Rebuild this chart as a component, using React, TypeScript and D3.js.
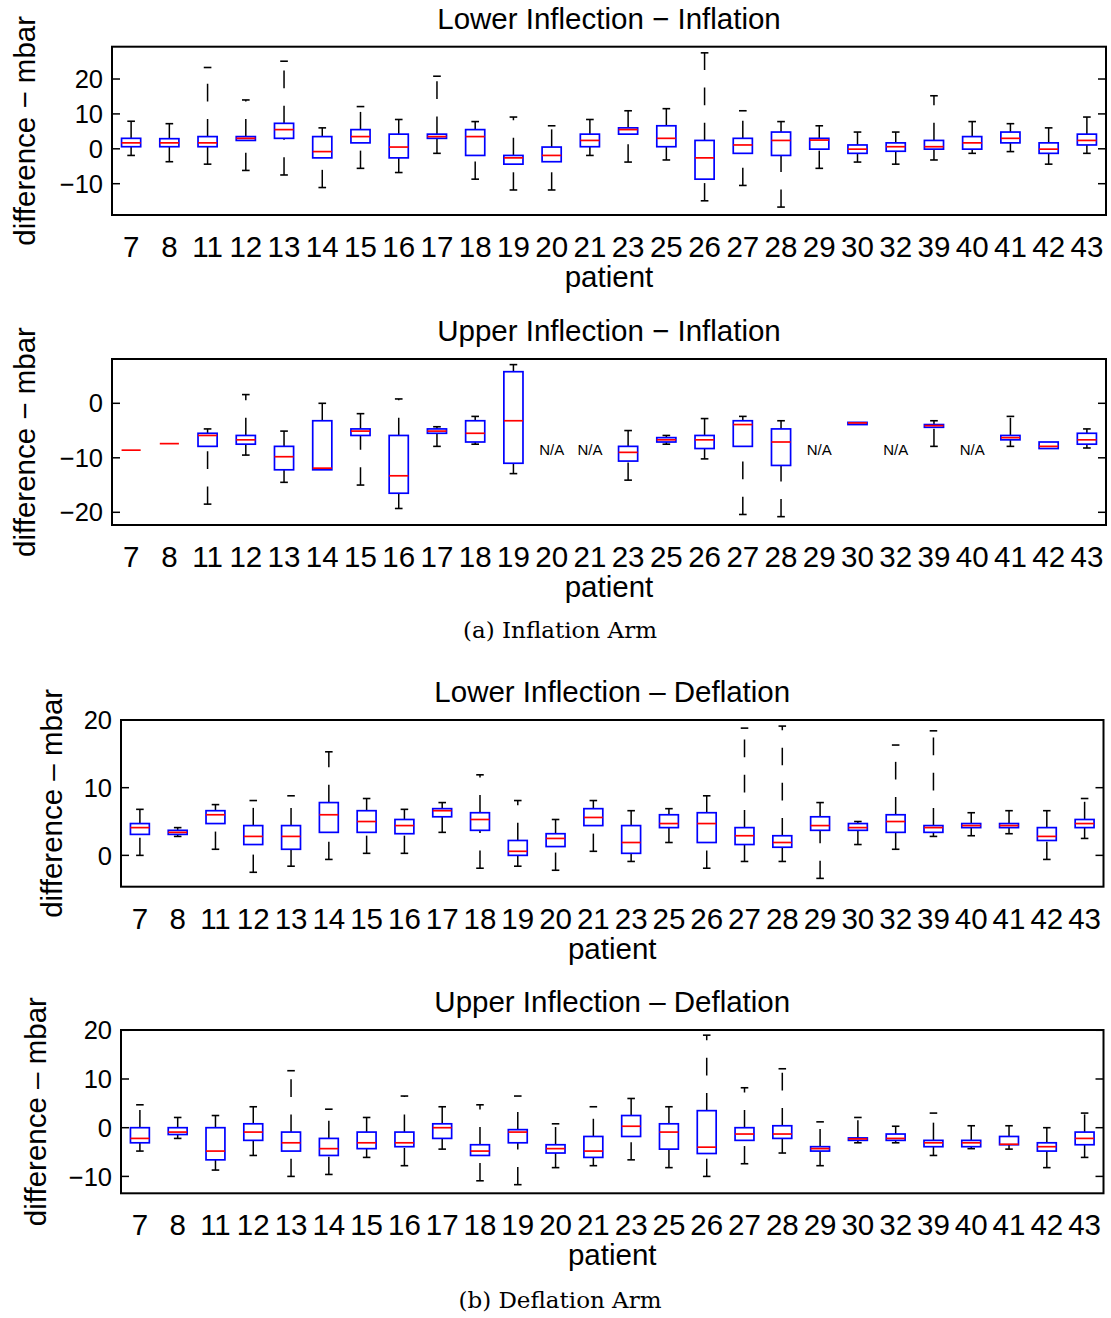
import React from 'react';
import * as d3 from 'd3';

const patients = ['7', '8', '11', '12', '13', '14', '15', '16', '17', '18', '19', '20', '21', '23', '25', '26', '27', '28', '29', '30', '32', '39', '40', '41', '42', '43'];

// Lower Inflection − Inflation
const liInfLow = [-1.9, -3.7, -4.4, -6.2, -7.5, -11.1, -5.6, -6.8, -1.3, -8.7, -11.8, -11.8, -1.9, -3.8, -3.2, -14.9, -10.5, -16.7, -5.6, -3.8, -4.4, -3.2, -1.3, -0.8, -4.4, -1.3];
const liInfQ1 = [0.6, 0.6, 0.6, 2.4, 3.0, -2.6, 1.7, -2.6, 3.0, -1.9, -4.4, -3.7, 0.6, 4.2, 0.6, -8.7, -1.3, -1.9, -0.1, -1.3, -0.7, -0.1, -0.1, 1.7, -1.3, 1.1];
const liInfMed = [1.7, 1.7, 1.7, 3.0, 5.5, -0.8, 3.5, 0.5, 3.5, 3.5, -2.6, -1.9, 2.4, 5.5, 3.0, -2.6, 1.1, 2.4, 2.5, -0.1, 0.6, 0.6, 1.7, 3.0, -0.1, 2.4];
const liInfQ3 = [3.0, 2.9, 3.5, 3.5, 7.3, 3.5, 5.5, 4.2, 4.2, 5.5, -1.9, 0.5, 4.2, 6.0, 6.6, 2.4, 3.0, 4.8, 3.0, 1.1, 1.7, 2.4, 3.5, 4.8, 1.7, 4.2];
const liInfHigh = [7.9, 7.2, 23.3, 14.0, 25.1, 6.0, 12.1, 8.4, 20.8, 7.8, 9.1, 6.6, 8.4, 10.9, 11.5, 27.5, 10.9, 7.8, 6.6, 4.8, 4.8, 15.2, 7.8, 7.2, 6.0, 9.1];

// Upper Inflection − Inflation (null = N/A)
const uiInfLow = [-8.6, -7.4, -18.5, -9.5, -14.5, -12.2, -15.0, -19.3, -7.9, -7.5, -12.9, null, null, -14.1, -7.5, -10.2, -20.4, -20.8, null, -3.9, null, -7.9, null, -7.9, -8.3, -8.2];
const uiInfQ1 = [-8.6, -7.4, -7.9, -7.5, -12.2, -12.2, -5.9, -16.5, -5.5, -7.1, -11.0, null, null, -10.6, -7.1, -8.3, -7.9, -11.4, null, -3.9, null, -4.4, null, -6.7, -8.3, -7.5];
const uiInfMed = [-8.6, -7.4, -5.9, -6.7, -9.8, -11.9, -5.1, -13.3, -5.1, -5.5, -3.2, null, null, -9.0, -6.7, -6.7, -3.9, -7.1, null, -3.6, null, -4.1, null, -6.3, -7.9, -6.7];
const uiInfQ3 = [-8.6, -7.4, -5.5, -5.9, -7.9, -3.2, -4.7, -5.9, -4.7, -3.2, 5.8, null, null, -7.9, -6.3, -5.9, -3.2, -4.7, null, -3.5, null, -3.9, null, -5.9, -7.1, -5.5];
const uiInfHigh = [-8.6, -7.4, -4.7, 1.6, -5.1, 0.0, -1.9, 0.8, -4.3, -2.4, 7.1, null, null, -5.0, -5.9, -2.8, -2.4, -3.2, null, -3.5, null, -3.2, null, -2.4, -7.1, -4.7];

// Lower Inflection – Deflation
const liDefLow = [0.0, 2.8, 0.9, -2.5, -1.6, -0.6, 0.3, 0.3, 3.4, -1.9, -1.6, -2.2, 0.6, -0.9, 1.9, -1.9, -0.9, -0.9, -3.4, 1.6, 0.9, 2.8, 2.9, 3.2, -0.6, 2.5];
const liDefQ1 = [3.1, 3.1, 4.7, 1.6, 0.9, 3.4, 3.4, 3.2, 5.7, 3.7, 0.0, 1.3, 4.4, 0.3, 4.1, 1.9, 1.6, 1.2, 3.7, 3.7, 3.4, 3.4, 4.1, 4.1, 2.2, 4.1];
const liDefMed = [4.1, 3.4, 6.0, 2.8, 2.8, 6.0, 5.0, 4.4, 6.6, 5.3, 0.6, 2.5, 5.6, 1.9, 4.7, 4.7, 2.9, 1.9, 4.4, 4.1, 5.0, 4.1, 4.4, 4.4, 2.8, 4.7];
const liDefQ3 = [4.7, 3.7, 6.6, 4.4, 4.4, 7.8, 6.6, 5.3, 6.9, 6.3, 2.2, 3.2, 6.9, 4.4, 6.0, 6.3, 4.1, 2.9, 5.7, 4.7, 6.0, 4.4, 4.7, 4.7, 4.1, 5.3];
const liDefHigh = [6.8, 4.1, 7.5, 8.1, 8.8, 15.3, 8.4, 6.8, 7.8, 11.9, 8.1, 5.3, 8.1, 6.6, 6.9, 8.8, 18.8, 19.1, 7.8, 5.0, 16.3, 18.4, 6.3, 6.6, 6.6, 8.4];

// Upper Inflection – Deflation
const uiDefLow = [-4.8, -2.2, -8.7, -5.7, -10.0, -9.6, -6.1, -7.8, -4.4, -10.9, -11.7, -8.2, -7.8, -6.6, -8.2, -10.0, -7.4, -5.2, -7.8, -3.1, -3.1, -5.7, -4.3, -4.4, -8.2, -6.1];
const uiDefQ1 = [-3.1, -1.4, -6.6, -2.6, -4.8, -5.7, -4.3, -3.9, -2.2, -5.7, -3.1, -5.2, -6.1, -1.8, -4.4, -5.3, -2.6, -2.2, -4.8, -2.6, -2.6, -3.9, -3.9, -3.5, -4.8, -3.5];
const uiDefMed = [-2.2, -0.9, -4.8, -0.9, -3.1, -4.3, -3.1, -3.1, 0.0, -4.8, -0.9, -4.3, -4.8, 0.3, -0.9, -4.0, -1.3, -1.3, -4.3, -2.3, -2.2, -3.1, -3.1, -3.4, -3.9, -2.2];
const uiDefQ3 = [0.0, 0.0, 0.0, 0.8, -0.9, -2.2, -0.9, -0.9, 0.8, -3.5, -0.4, -3.5, -1.8, 2.5, 0.8, 3.5, 0.0, 0.4, -3.9, -2.1, -1.3, -2.6, -2.6, -1.8, -3.1, -0.9];
const uiDefHigh = [4.7, 2.1, 2.5, 4.3, 11.7, 3.8, 2.1, 6.5, 4.3, 4.7, 6.5, 0.8, 4.3, 6.0, 4.3, 19.0, 8.2, 12.1, 1.2, 2.1, 0.3, 3.0, 0.4, 0.4, 0.0, 3.0];

const yTicksA = [-10, 0, 10, 20];
const yTicksB = [-20, -10, 0];
const yTicksC = [0, 10, 20];
const yTicksD = [-10, 0, 10, 20];

const SANS = '"Liberation Sans", Arial, Helvetica, sans-serif';
const SERIF = '"DejaVu Serif", "Liberation Serif", serif';

type Series = { lo: (number | null)[]; q1: (number | null)[]; med: (number | null)[]; q3: (number | null)[]; hi: (number | null)[] };

type PanelCfg = {
  title: string;
  ylabel: string;
  left: number;
  right: number;
  top: number;
  bottom: number;
  domain: [number, number];
  ticks: number[];
  ylabelX: number;
  data: Series;
};

const fmt = (d: number) => (d < 0 ? '\u2212' + Math.abs(d) : String(d));

function Panel({ cfg }: { cfg: PanelCfg }) {
  const x = d3.scaleLinear().domain([0.5, patients.length + 0.5]).range([cfg.left, cfg.right]);
  const y = d3.scaleLinear().domain(cfg.domain).range([cfg.bottom, cfg.top]);
  const unit = x(1) - x(0);
  const boxHalf = unit * 0.25;
  const capHalf = unit * 0.1;
  const cx = (cfg.left + cfg.right) / 2;
  const cy = (cfg.top + cfg.bottom) / 2;
  const d = cfg.data;
  return (
    <g>
      <text x={cx} y={cfg.top - 18} textAnchor="middle" fontFamily={SANS} fontSize={29.5} fill="#000">
        {cfg.title}
      </text>
      <text transform={`translate(${cfg.ylabelX},${cy}) rotate(-90)`} textAnchor="middle" fontFamily={SANS} fontSize={29.5} fill="#000">
        {cfg.ylabel}
      </text>
      {patients.map((p, i) => {
        const px = x(i + 1);
        const lo = d.lo[i], q1 = d.q1[i], med = d.med[i], q3 = d.q3[i], hi = d.hi[i];
        if (lo === null || q1 === null || med === null || q3 === null || hi === null) {
          return (
            <text key={p} x={px} y={y(-9.5)} textAnchor="middle" fontFamily={SANS} fontSize={15} fill="#000">
              N/A
            </text>
          );
        }
        return (
          <g key={p}>
            {hi > q3 && (
              <line x1={px} x2={px} y1={y(q3)} y2={y(hi)} stroke="#000" strokeWidth={1.5} strokeDasharray="17.7 17.5" />
            )}
            {q1 > lo && (
              <line x1={px} x2={px} y1={y(lo)} y2={y(q1)} stroke="#000" strokeWidth={1.5} strokeDasharray="17.7 17.5" />
            )}
            {hi > q3 && <line x1={px - capHalf} x2={px + capHalf} y1={y(hi)} y2={y(hi)} stroke="#000" strokeWidth={1.6} />}
            {q1 > lo && <line x1={px - capHalf} x2={px + capHalf} y1={y(lo)} y2={y(lo)} stroke="#000" strokeWidth={1.6} />}
            <rect x={px - boxHalf} y={y(q3)} width={boxHalf * 2} height={Math.max(0, y(q1) - y(q3))} fill="none" stroke="#0000ff" strokeWidth={1.7} />
            <line x1={px - boxHalf} x2={px + boxHalf} y1={y(med)} y2={y(med)} stroke="#ff0000" strokeWidth={1.7} />
          </g>
        );
      })}
      {cfg.ticks.map((t) => (
        <g key={t}>
          <line x1={cfg.left} x2={cfg.left + 8} y1={y(t)} y2={y(t)} stroke="#000" strokeWidth={1.5} />
          <line x1={cfg.right} x2={cfg.right - 8} y1={y(t)} y2={y(t)} stroke="#000" strokeWidth={1.5} />
          <text x={cfg.left - 9} y={y(t)} dy="0.36em" textAnchor="end" fontFamily={SANS} fontSize={25.5} fill="#000">
            {fmt(t)}
          </text>
        </g>
      ))}
      <rect x={cfg.left} y={cfg.top} width={cfg.right - cfg.left} height={cfg.bottom - cfg.top} fill="none" stroke="#000" strokeWidth={2} />
      {patients.map((p, i) => (
        <text key={'t' + p} x={x(i + 1)} y={cfg.bottom + 42} textAnchor="middle" fontFamily={SANS} fontSize={29.5} fill="#000">
          {p}
        </text>
      ))}
      <text x={cx} y={cfg.bottom + 72} textAnchor="middle" fontFamily={SANS} fontSize={29.5} fill="#000">
        patient
      </text>
    </g>
  );
}

export default function App() {
  const panels: PanelCfg[] = [
    {
      title: 'Lower Inflection \u2212 Inflation',
      ylabel: 'difference \u2212 mbar',
      left: 112, right: 1106, top: 46.7, bottom: 215,
      domain: [-18.97, 29.26], ticks: yTicksA, ylabelX: 35,
      data: { lo: liInfLow, q1: liInfQ1, med: liInfMed, q3: liInfQ3, hi: liInfHigh },
    },
    {
      title: 'Upper Inflection \u2212 Inflation',
      ylabel: 'difference \u2212 mbar',
      left: 112, right: 1106, top: 359, bottom: 525,
      domain: [-22.33, 8.13], ticks: yTicksB, ylabelX: 35,
      data: { lo: uiInfLow, q1: uiInfQ1, med: uiInfMed, q3: uiInfQ3, hi: uiInfHigh },
    },
    {
      title: 'Lower Inflection \u2013 Deflation',
      ylabel: 'difference \u2013 mbar',
      left: 121, right: 1103.5, top: 720, bottom: 886.7,
      domain: [-4.63, 20], ticks: yTicksC, ylabelX: 62,
      data: { lo: liDefLow, q1: liDefQ1, med: liDefMed, q3: liDefQ3, hi: liDefHigh },
    },
    {
      title: 'Upper Inflection \u2013 Deflation',
      ylabel: 'difference \u2013 mbar',
      left: 121, right: 1103.5, top: 1030, bottom: 1193.3,
      domain: [-13.47, 20.06], ticks: yTicksD, ylabelX: 46,
      data: { lo: uiDefLow, q1: uiDefQ1, med: uiDefMed, q3: uiDefQ3, hi: uiDefHigh },
    },
  ];
  return (
    <svg width={1111} height={1318} style={{ position: 'absolute', left: 0, top: 0, background: '#fff' }}>
      <rect x={0} y={0} width={1111} height={1318} fill="#fff" />
      {panels.map((p) => (
        <Panel key={p.title} cfg={p} />
      ))}
      <text x={560} y={638} textAnchor="middle" fontFamily={SERIF} fontSize={23} fill="#000">
        (a) Inflation Arm
      </text>
      <text x={560} y={1308} textAnchor="middle" fontFamily={SERIF} fontSize={23} fill="#000">
        (b) Deflation Arm
      </text>
    </svg>
  );
}
